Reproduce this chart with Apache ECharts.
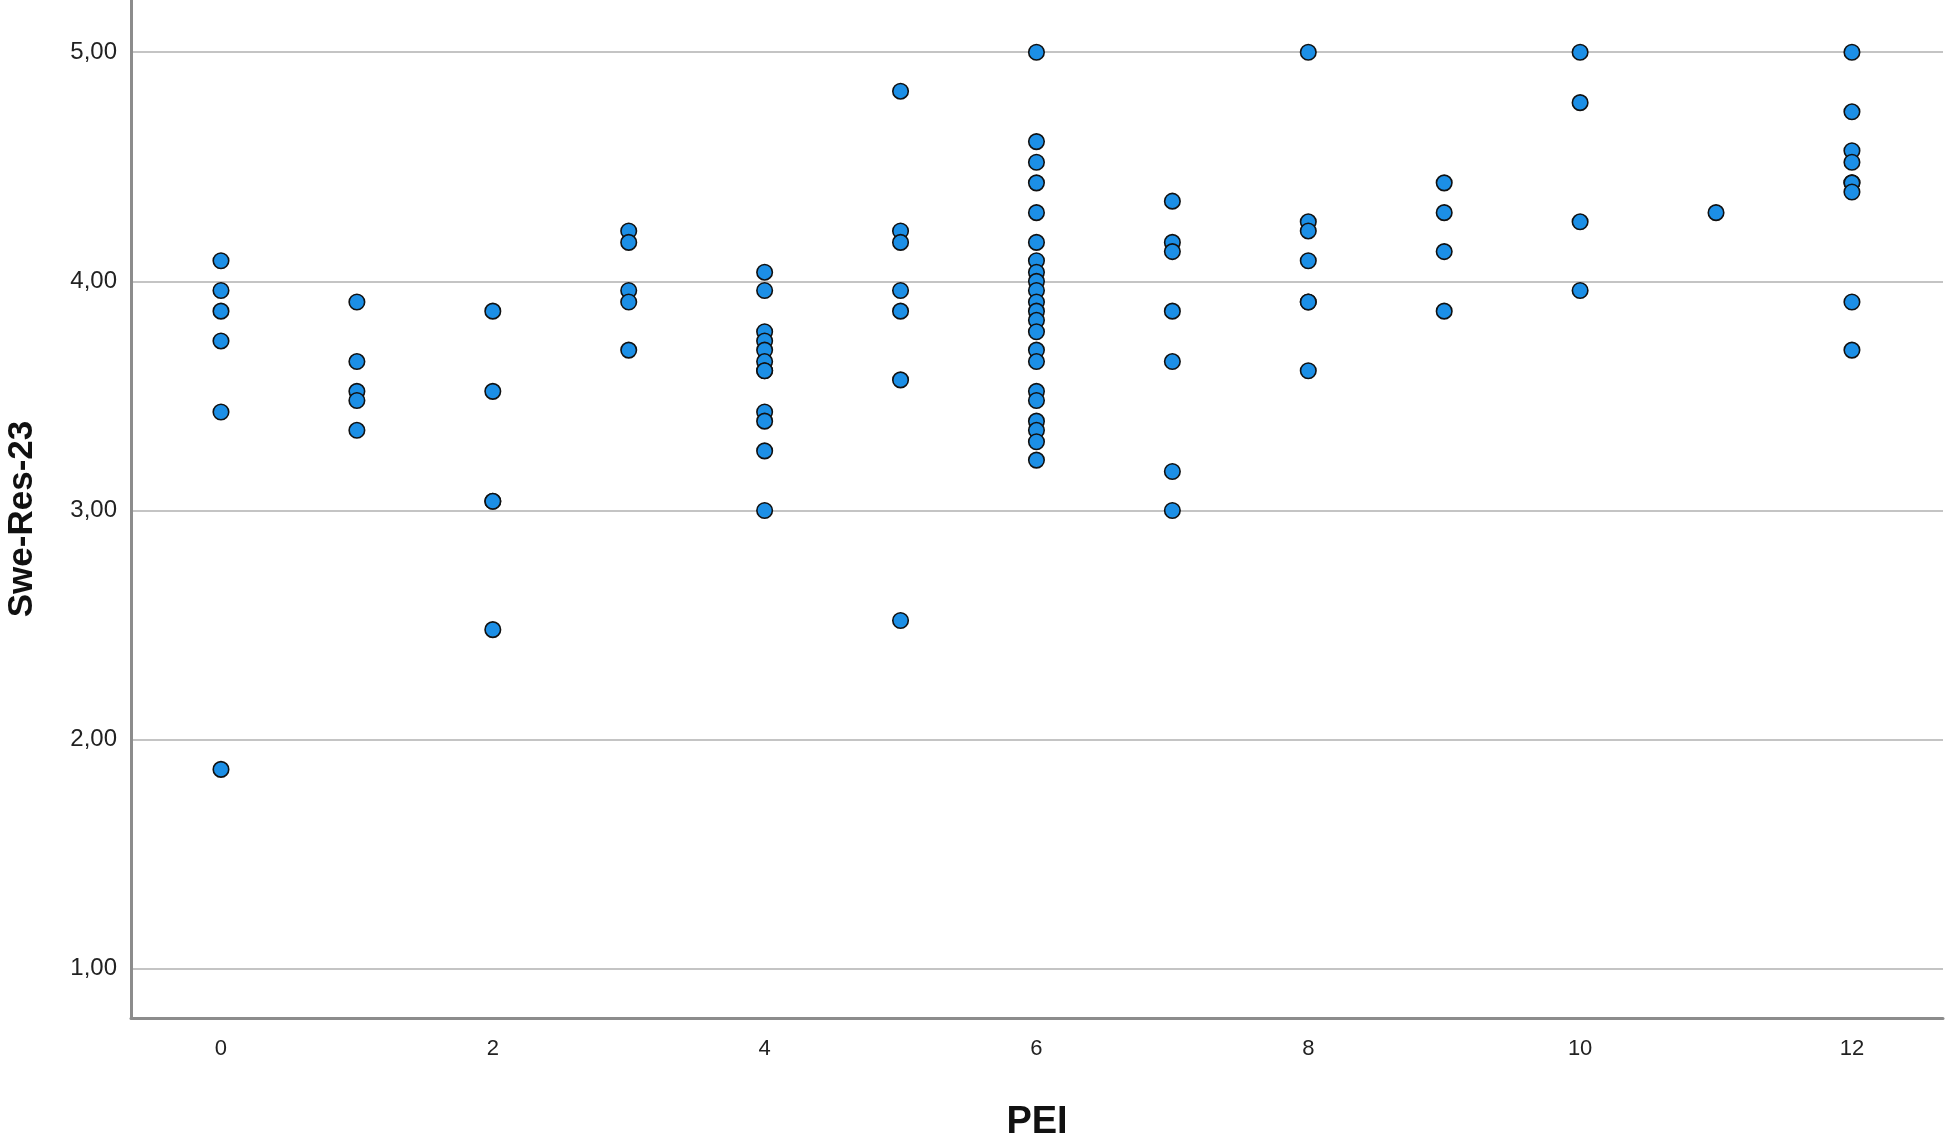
<!DOCTYPE html>
<html>
<head>
<meta charset="utf-8">
<script src="https://cdn.jsdelivr.net/npm/echarts@6/dist/echarts.min.js"></script>
<style>
html,body{margin:0;padding:0;background:#fff;}
#chart{width:1945px;height:1134px;}
</style>
</head>
<body>
<div id="chart"></div>
<script>
// Swe-Res-23 values for each PEI score
const pei0  = [4.09, 3.96, 3.87, 3.74, 3.43, 1.87];
const pei1  = [3.91, 3.65, 3.52, 3.48, 3.35];
const pei2  = [3.87, 3.52, 3.04, 3.04, 2.48];
const pei3  = [4.22, 4.17, 3.96, 3.91, 3.70];
const pei4  = [4.04, 3.96, 3.78, 3.74, 3.70, 3.65, 3.61, 3.61, 3.43, 3.39, 3.26, 3.00];
const pei5  = [4.83, 4.22, 4.17, 3.96, 3.87, 3.57, 2.52];
const pei6  = [5.00, 4.61, 4.52, 4.43, 4.30, 4.17, 4.09, 4.04, 4.00, 3.96, 3.91, 3.87, 3.83, 3.78, 3.70, 3.65, 3.52, 3.48, 3.39, 3.35, 3.30, 3.22];
const pei7  = [4.35, 4.17, 4.13, 3.87, 3.65, 3.17, 3.00];
const pei8  = [5.00, 4.26, 4.22, 4.09, 3.91, 3.91, 3.61];
const pei9  = [4.43, 4.30, 4.13, 3.87];
const pei10 = [5.00, 4.78, 4.26, 3.96];
const pei11 = [4.30];
const pei12 = [5.00, 4.74, 4.57, 4.52, 4.43, 4.43, 4.39, 3.91, 3.70];

const groups = [pei0, pei1, pei2, pei3, pei4, pei5, pei6, pei7, pei8, pei9, pei10, pei11, pei12];
const xTicks = [0, 2, 4, 6, 8, 10, 12];
const yTicks = [1, 2, 3, 4, 5];
const xTitle = 'PEI';
const yTitle = 'Swe-Res-23';

const points = [];
groups.forEach((vals, pei) => vals.forEach(v => points.push([pei, v])));

const chart = echarts.init(document.getElementById('chart'), null, {renderer: 'canvas'});
const labelFont = 'Liberation Sans, Arial, sans-serif';
chart.setOption({
  animation: false,
  backgroundColor: '#ffffff',
  grid: {left: 131, right: 2, top: 0, bottom: 116, containLabel: false, outerBoundsMode: 'none'},
  xAxis: {
    type: 'value',
    min: -0.662,
    max: 12.67,
    name: xTitle,
    nameLocation: 'middle',
    nameGap: 86,
    nameTextStyle: {fontFamily: labelFont, fontSize: 38, fontWeight: 'bold', color: '#111', lineHeight: 38},
    axisLine: {show: true, onZero: false, lineStyle: {color: '#8c8c8c', width: 3}},
    axisTick: {show: false, customValues: xTicks},
    splitLine: {show: false},
    axisLabel: {
      customValues: xTicks,
      margin: 20,
      fontFamily: labelFont,
      fontSize: 22,
      color: '#222'
    }
  },
  yAxis: {
    type: 'value',
    min: 0.785,
    max: 5.228,
    name: yTitle,
    nameLocation: 'middle',
    nameGap: 91,
    nameRotate: 90,
    nameTextStyle: {fontFamily: labelFont, fontSize: 35, fontWeight: 'bold', color: '#111', padding: [0, 20, 0, 0]},
    axisLine: {show: true, onZero: false, lineStyle: {color: '#8c8c8c', width: 3}},
    axisTick: {show: false, customValues: yTicks},
    splitLine: {show: true, lineStyle: {color: '#c4c4c4', width: 2}},
    axisLabel: {
      customValues: yTicks,
      margin: 14,
      fontFamily: labelFont,
      fontSize: 24,
      color: '#222',
      formatter: v => v.toFixed(2).replace('.', ',')
    }
  },
  series: [{
    type: 'scatter',
    data: points,
    symbol: 'circle',
    symbolSize: 15.5,
    itemStyle: {color: '#1c8fe6', borderColor: '#111', borderWidth: 1.6, opacity: 1}
  }]
});
</script>
</body>
</html>
